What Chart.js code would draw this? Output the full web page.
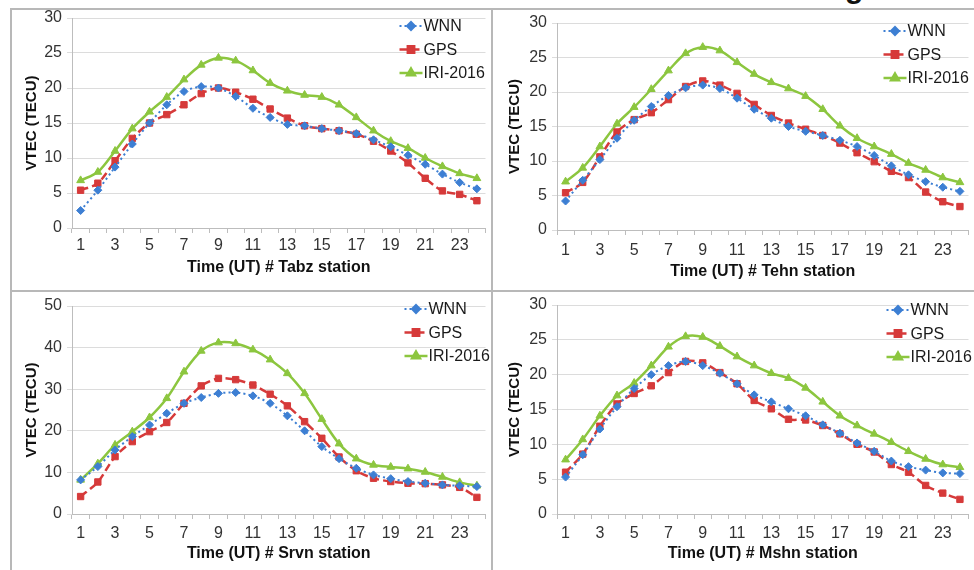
<!DOCTYPE html>
<html>
<head>
<meta charset="utf-8">
<script src="https://cdn.jsdelivr.net/npm/chart.js@4.4.1/dist/chart.umd.min.js"></script>
<style>
  body { margin: 0; width: 974px; height: 570px; position: relative; overflow: hidden; background: #fff; font-family: "Liberation Sans", Arial, sans-serif; }
  .line { position: absolute; background: #b8b8b8; }
  canvas { position: absolute; }
  #cut { position: absolute; left: 845px; top: -29px; font: bold 30px "Liberation Sans", Arial, sans-serif; color: #111; }
</style>
</head>
<body>
<div id="cut">g</div>
<div class="line" style="left:10px;top:8px;width:964px;height:2px"></div>
<div class="line" style="left:10px;top:290px;width:964px;height:2px"></div>
<div class="line" style="left:10px;top:8px;width:2px;height:562px"></div>
<div class="line" style="left:491px;top:8px;width:2px;height:562px"></div>
<canvas id="tabz" style="left:12px;top:10px" width="479" height="280"></canvas>
<canvas id="tehn" style="left:493px;top:10px" width="481" height="280"></canvas>
<canvas id="srvn" style="left:12px;top:292px" width="479" height="278"></canvas>
<canvas id="mshn" style="left:493px;top:292px" width="481" height="278"></canvas>
<script>
const hours = ['1','2','3','4','5','6','7','8','9','10','11','12','13','14','15','16','17','18','19','20','21','22','23','24'];
const seriesNames = ['WNN', 'GPS', 'IRI-2016'];

const tabzWnn = [2.5, 5.4, 8.7, 12.0, 15.0, 17.6, 19.5, 20.2, 20.0, 18.8, 17.1, 15.8, 14.8, 14.6, 14.2, 13.9, 13.5, 12.6, 11.6, 10.4, 9.1, 7.7, 6.5, 5.6];
const tabzGps = [5.4, 6.4, 9.6, 12.8, 15.0, 16.2, 17.6, 19.2, 20.0, 19.4, 18.4, 17.0, 15.7, 14.6, 14.2, 13.9, 13.4, 12.4, 11.0, 9.3, 7.1, 5.3, 4.8, 3.9];
const tabzIri = [6.8, 8.0, 11.0, 14.2, 16.6, 18.7, 21.2, 23.3, 24.3, 23.9, 22.5, 20.7, 19.6, 19.0, 18.7, 17.6, 15.8, 13.9, 12.4, 11.4, 10.0, 8.8, 7.8, 7.1];

const tehnWnn = [4.2, 7.2, 10.2, 13.3, 15.9, 17.9, 19.5, 20.6, 21.0, 20.5, 19.1, 17.5, 16.2, 15.0, 14.3, 13.7, 13.0, 12.1, 10.8, 9.3, 8.0, 7.0, 6.2, 5.6];
const tehnGps = [5.4, 6.9, 10.6, 14.2, 16.0, 17.0, 18.9, 20.8, 21.6, 21.0, 19.8, 18.2, 16.6, 15.5, 14.6, 13.7, 12.6, 11.2, 9.9, 8.5, 7.6, 5.5, 4.1, 3.4];
const tehnIri = [7.0, 9.0, 12.1, 15.4, 17.8, 20.4, 23.1, 25.6, 26.5, 26.0, 24.3, 22.6, 21.4, 20.5, 19.4, 17.5, 15.1, 13.3, 12.1, 11.0, 9.7, 8.7, 7.6, 6.9];

const srvnWnn = [8.2, 11.4, 15.4, 18.6, 21.4, 24.2, 26.6, 28.0, 29.0, 29.2, 28.4, 26.6, 23.6, 20.0, 16.2, 13.3, 11.0, 9.4, 8.5, 7.8, 7.4, 7.0, 6.8, 6.6];
const srvnGps = [4.2, 7.7, 13.8, 17.4, 19.8, 22.0, 26.6, 30.8, 32.6, 32.3, 31.0, 28.8, 26.0, 22.2, 18.2, 13.7, 10.4, 8.6, 7.8, 7.4, 7.3, 7.0, 6.4, 4.0];
const srvnIri = [8.2, 12.1, 16.6, 19.8, 23.2, 27.8, 34.2, 39.2, 41.2, 41.0, 39.5, 37.1, 33.8, 29.0, 22.8, 16.9, 13.3, 11.8, 11.3, 10.9, 10.1, 8.9, 7.6, 6.8];

const mshnWnn = [5.3, 8.5, 12.2, 15.4, 18.0, 20.0, 21.3, 21.9, 21.3, 20.2, 18.7, 17.1, 16.1, 15.1, 14.1, 12.8, 11.6, 10.2, 9.0, 7.6, 6.8, 6.3, 5.9, 5.8];
const mshnGps = [6.0, 8.6, 12.6, 15.8, 17.3, 18.4, 20.3, 21.9, 21.7, 20.3, 18.7, 16.3, 15.1, 13.6, 13.5, 12.7, 11.5, 10.0, 8.9, 7.1, 6.0, 4.1, 3.0, 2.1];
const mshnIri = [7.8, 10.7, 14.1, 17.0, 18.8, 21.3, 24.0, 25.5, 25.4, 24.1, 22.6, 21.3, 20.2, 19.5, 18.1, 16.1, 14.1, 12.7, 11.5, 10.3, 9.0, 7.9, 7.1, 6.7];

const FONT = '"Liberation Sans", Arial, sans-serif';
const styles = [
  { color: '#3d7fd3', dash: [2, 3], width: 2, point: 'rectRot', radius: 4 },
  { color: '#d63a3a', dash: [8, 4], width: 2.5, point: 'rect', radius: 4.5 },
  { color: '#8cc63f', dash: [], width: 2.5, point: 'triangle', radius: 4.5 }
];

// little legend drawn inside the plot, top right
const cornerLegend = {
  id: 'cornerLegend',
  afterDatasetsDraw(chart, args, opts) {
    const ctx = chart.ctx;
    const a = chart.chartArea;
    ctx.save();
    chart.data.datasets.forEach((ds, i) => {
      const st = styles[i];
      const y = a.top + opts.dy + i * 23.5;
      const x0 = a.right - opts.dx;
      ctx.strokeStyle = st.color;
      ctx.lineWidth = st.width;
      ctx.setLineDash(st.dash);
      ctx.beginPath();
      ctx.moveTo(x0, y);
      ctx.lineTo(x0 + 23, y);
      ctx.stroke();
      ctx.setLineDash([]);
      ctx.fillStyle = st.color;
      Chart.helpers.drawPoint(ctx, { pointStyle: st.point, radius: st.radius, rotation: 0, borderWidth: 1 }, x0 + 11.5, y);
      ctx.fillStyle = '#1a1a1a';
      ctx.font = '16px ' + FONT;
      ctx.textBaseline = 'middle';
      ctx.fillText(ds.label, x0 + 24, y + 1);
    });
    ctx.restore();
  }
};

function makePanel(id, values, station, yMax, yStep, lay) {
  new Chart(document.getElementById(id), {
    type: 'line',
    data: {
      labels: hours,
      datasets: values.map((v, i) => ({
        label: seriesNames[i],
        data: v,
        borderColor: styles[i].color,
        backgroundColor: styles[i].color,
        borderWidth: styles[i].width,
        borderDash: styles[i].dash,
        pointStyle: styles[i].point,
        pointRadius: styles[i].radius,
        pointBorderWidth: 1,
        tension: 0.3,
        fill: false
      }))
    },
    options: {
      responsive: false,
      animation: false,
      layout: { padding: { top: lay.top, right: lay.right, left: 0, bottom: 0 } },
      plugins: {
        legend: { display: false },
        tooltip: { enabled: false },
        cornerLegend: { dx: lay.legDx, dy: lay.legDy }
      },
      scales: {
        x: {
          offset: true,
          grid: { drawOnChartArea: false, offset: true, tickLength: 5, color: '#bdbdbd' },
          border: { color: '#bdbdbd' },
          ticks: {
            autoSkip: false, maxRotation: 0, padding: lay.xTickPad, color: '#333',
            font: { family: FONT, size: 16 },
            callback: (v, i) => (i % 2 === 0 ? hours[i] : '')
          },
          title: {
            display: true, text: 'Time (UT) # ' + station + ' station', color: '#111',
            font: { family: FONT, size: 16, weight: 'bold' },
            padding: { top: 0, bottom: lay.xTitlePad }
          },
          afterFit(s) { s.height = lay.xH; s.paddingLeft = 0; s.paddingRight = 0; }
        },
        y: {
          min: 0, max: yMax,
          grid: { color: '#dcdcdc', tickLength: 5 },
          border: { color: '#bdbdbd' },
          ticks: { stepSize: yStep, padding: 5, color: '#333', font: { family: FONT, size: 16 } },
          title: {
            display: true, text: 'VTEC (TECU)', color: '#111',
            font: { family: FONT, size: 15, weight: 'bold' },
            padding: { top: lay.yTitlePad, bottom: 0 }
          },
          afterFit(s) { s.width = lay.yW; s.paddingTop = 0; s.paddingBottom = 0; }
        }
      }
    },
    plugins: [cornerLegend]
  });
}

makePanel('tabz', [tabzWnn, tabzGps, tabzIri], 'Tabz', 30, 5,
  { top: 8, right: 5, yW: 60, xH: 62, xTickPad: 3, xTitlePad: 13, yTitlePad: 11, legDx: 86, legDy: 8 });
makePanel('tehn', [tehnWnn, tehnGps, tehnIri], 'Tehn', 30, 5,
  { top: 13, right: 5, yW: 64, xH: 60, xTickPad: 6, xTitlePad: 9, yTitlePad: 13, legDx: 85, legDy: 8 });
makePanel('srvn', [srvnWnn, srvnGps, srvnIri], 'Srvn', 50, 10,
  { top: 14, right: 5, yW: 60, xH: 56, xTickPad: 5, xTitlePad: 7, yTitlePad: 11, legDx: 81, legDy: 3 });
makePanel('mshn', [mshnWnn, mshnGps, mshnIri], 'Mshn', 30, 5,
  { top: 13, right: 5, yW: 64, xH: 56, xTickPad: 5, xTitlePad: 7, yTitlePad: 13, legDx: 82, legDy: 5 });
</script>
</body>
</html>
